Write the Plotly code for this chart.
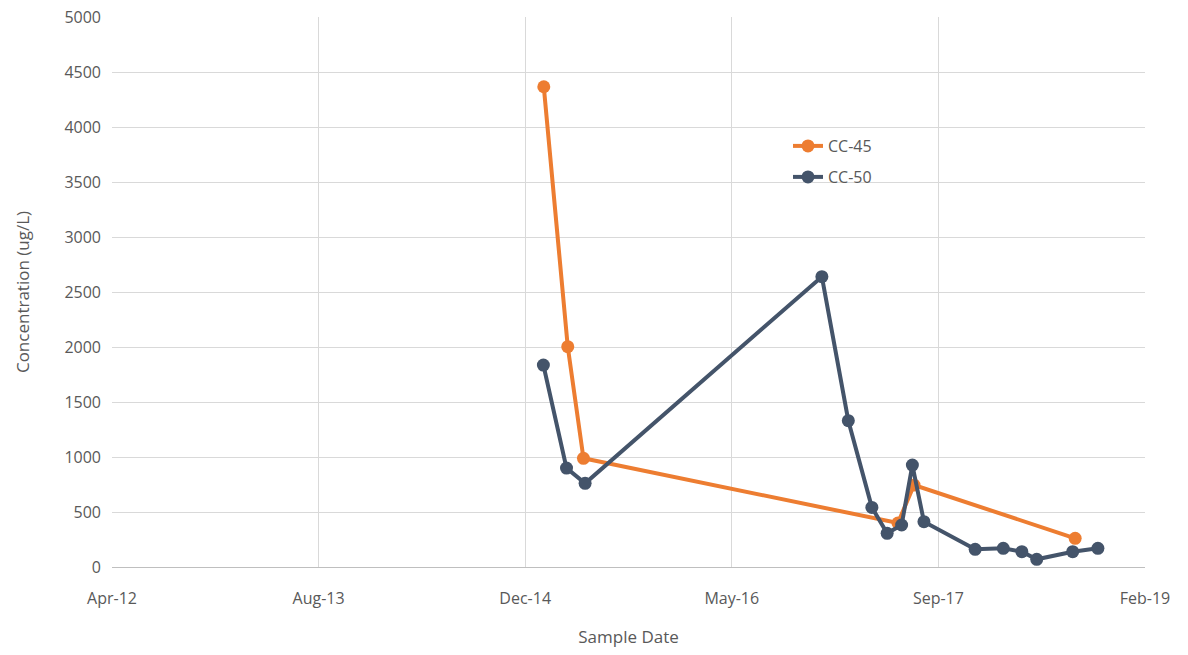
import plotly.graph_objects as go

# ---- data ----
cc45_dates = ["2015-02-10", "2015-04-09", "2015-05-17", "2017-06-16", "2017-07-25", "2018-08-19"]
cc45_values = [4366, 2003, 988, 400, 745, 261]

cc50_dates = ["2015-02-09", "2015-04-06", "2015-05-21", "2016-12-14", "2017-02-16", "2017-04-14",
              "2017-05-21", "2017-06-25", "2017-07-21", "2017-08-18", "2017-12-20", "2018-02-26",
              "2018-04-12", "2018-05-18", "2018-08-13", "2018-10-13"]
cc50_values = [1836, 899, 761, 2639, 1330, 542, 306, 382, 927, 412, 161, 170, 139, 70, 139, 170]

tick_dates = ["2012-04-01", "2013-08-14", "2014-12-27", "2016-05-10", "2017-09-22", "2019-02-04"]
tick_labels = ["Apr-12", "Aug-13", "Dec-14", "May-16", "Sep-17", "Feb-19"]

ORANGE = "#ED7D31"
NAVY = "#44546A"
GRID = "#d9d9d9"
TXT = "#595959"
FONT = "Open Sans"

L, R, T, B = 112, 43, 17, 88
W, H = 1188, 655
PW, PH = W - L - R, H - T - B


def px(xp):
    return (xp - L) / PW


def py(yp):
    return (H - B - yp) / PH


fig = go.Figure()
fig.add_trace(go.Scatter(x=cc45_dates, y=cc45_values, name="CC-45", mode="lines+markers",
                         line=dict(color=ORANGE, width=4),
                         marker=dict(color=ORANGE, size=13, symbol="circle"),
                         legend="legend"))
fig.add_trace(go.Scatter(x=cc50_dates, y=cc50_values, name="CC-50", mode="lines+markers",
                         line=dict(color=NAVY, width=4),
                         marker=dict(color=NAVY, size=13, symbol="circle"),
                         legend="legend2"))

# white legend area covering gridlines
fig.add_shape(type="rect", xref="paper", yref="paper",
              x0=px(795), x1=px(990), y0=py(255), y1=py(125),
              fillcolor="white", line=dict(width=0), layer="between")

leg_common = dict(xanchor="left", yanchor="middle", bgcolor="rgba(0,0,0,0)",
                  font=dict(size=16, color=TXT, family=FONT), itemwidth=30)

fig.update_layout(
    width=W, height=H,
    margin=dict(l=L, r=R, t=T, b=B, autoexpand=False),
    paper_bgcolor="white", plot_bgcolor="white",
    font=dict(family=FONT, color=TXT, size=15),
    showlegend=True,
    legend=dict(x=px(788), y=py(146), **leg_common),
    legend2=dict(x=px(788), y=py(177), **leg_common),
    xaxis=dict(type="date", range=[tick_dates[0], tick_dates[-1]],
               tickmode="array", tickvals=tick_dates, ticktext=tick_labels,
               showgrid=True, gridcolor=GRID, gridwidth=1,
               showline=False, zeroline=False, ticks="", automargin=False,
               ticklabelstandoff=20,
               tickfont=dict(size=16, color=TXT, family=FONT),
               title=dict(text="Sample Date", font=dict(size=17, color=TXT, family=FONT), standoff=23)),
    yaxis=dict(range=[0, 5000], tickmode="linear", tick0=0, dtick=500,
               showgrid=True, gridcolor=GRID, gridwidth=1,
               zeroline=True, zerolinecolor="#bfbfbf", zerolinewidth=1,
               showline=False, ticks="", ticklabelstandoff=10, automargin=False,
               tickfont=dict(size=16, color=TXT, family=FONT),
               title=dict(text="Concentration (ug/L)", font=dict(size=17, color=TXT, family=FONT), standoff=30)),
)

fig.write_html("out.html", config={"displayModeBar": False},
               post_script="document.body.style.margin='0';")
